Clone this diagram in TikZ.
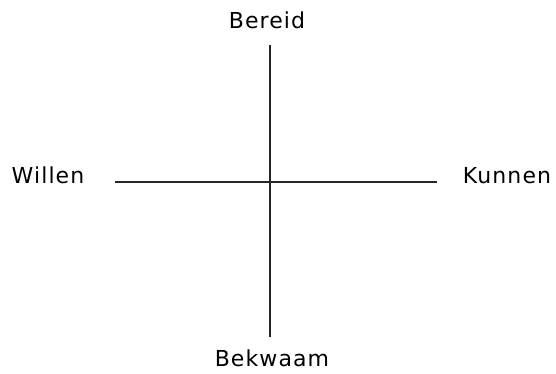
\documentclass[tikz,border=0pt]{standalone}
\usepackage{fontspec}
\setmainfont[LetterSpace=5]{DejaVu Sans}
\begin{document}
\begin{tikzpicture}[x=1pt,y=-1pt,
  lbl/.style={inner sep=0pt,anchor=base,font=\fontsize{22}{24}\selectfont},
  axis/.style={line width=1.1pt,black!85}]
\useasboundingbox (0,0) rectangle (556,374);
\node[lbl] (bereid) at (267,29) {Bereid};
\node[lbl] (willen) at (48,183) {Willen};
\node[lbl] (kunnen) at (507,183) {Kunnen};
\node[lbl] (bekwaam) at (272,366) {Bekwaam};
\coordinate (top) at (270,45);
\coordinate (bottom) at (270,337);
\coordinate (left) at (115,182);
\coordinate (right) at (437,182);
\draw[axis] (top) -- (bottom);
\draw[axis] (left) -- (right);
\end{tikzpicture}
\end{document}
